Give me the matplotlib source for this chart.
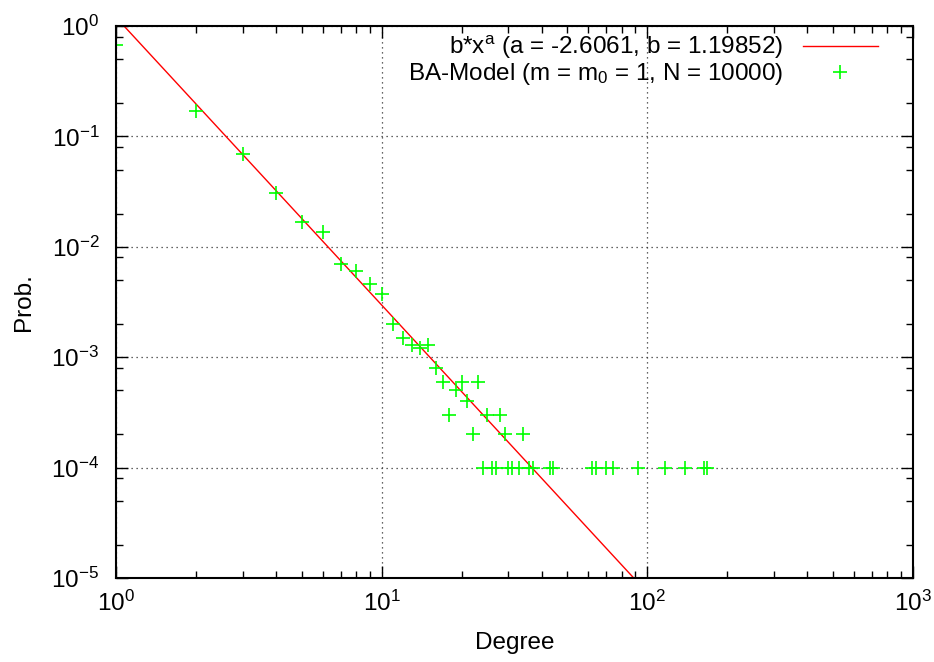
import numpy as np
import matplotlib
matplotlib.use("Agg")
from matplotlib import pyplot as plt
from matplotlib.ticker import LogLocator, NullFormatter

plt.rcParams['font.family'] = ['Liberation Sans', 'DejaVu Sans']
plt.rcParams['mathtext.fontset'] = 'custom'
plt.rcParams['mathtext.rm'] = 'Liberation Sans'
plt.rcParams['mathtext.it'] = 'Liberation Sans'
plt.rcParams['mathtext.default'] = 'regular'

# degree distribution (N = 10000, so steps of 1e-4)
degree = [1, 2, 3, 4, 5, 6, 7, 8, 9, 10, 11, 12, 13, 14, 15, 16, 17,
          18, 19, 20, 21, 22, 23, 24, 25, 26, 27, 28, 29, 30, 31, 33, 34,
          36, 37, 43, 44, 62, 64, 70, 74, 92, 117, 139, 164, 168]
prob = [0.668, 0.170, 0.0688, 0.0308, 0.0167, 0.0135, 0.0070, 0.0060,
        0.0046, 0.0037, 0.0020, 0.0015, 0.0013, 0.0012, 0.0013, 0.0008,
        0.0006, 0.0003, 0.0005, 0.0006, 0.0004, 0.0002, 0.0006, 0.0001,
        0.0003, 0.0001, 0.0001, 0.0003, 0.0002, 0.0001, 0.0001, 0.0001,
        0.0002, 0.0001, 0.0001, 0.0001, 0.0001, 0.0001, 0.0001, 0.0001,
        0.0001, 0.0001, 0.0001, 0.0001, 0.0001, 0.0001]

# power law fit parameters
fit_a = -2.6061
fit_b = 1.19852

fs = 17.5

fig = plt.figure(figsize=(9.34, 6.62), dpi=100)
ax = fig.add_axes([116 / 934, 1 - 578 / 662, 797 / 934, 552 / 662])

xs = np.logspace(0, 3, 600)
ax.plot(xs, fit_b * xs ** fit_a, color='#ff0000', lw=1.0,
        label=r'b*x$^{a}$ (a = -2.6061, b = 1.19852)')
ax.plot(degree, prob, linestyle='none', marker='+', ms=10, mew=1.2,
        color='#00ff00', label=r'BA-Model (m = m$_{0}$ = 1, N = 10000)')

ax.set_xscale('log')
ax.set_yscale('log')
ax.set_xlim(1, 1000)
ax.set_ylim(1e-5, 1)

ax.xaxis.set_minor_locator(LogLocator(base=10, subs=np.arange(2, 10)))
ax.yaxis.set_minor_locator(LogLocator(base=10, subs=[2, 5, 8]))
ax.xaxis.set_minor_formatter(NullFormatter())
ax.yaxis.set_minor_formatter(NullFormatter())

ax.tick_params(which='both', direction='in', top=True, right=True,
               labelsize=fs, width=1.0, color='black')
ax.tick_params(which='major', length=8.5)
ax.tick_params(which='minor', length=4.8)
ax.tick_params(axis='y', which='major', pad=12)
ax.tick_params(axis='x', which='major', pad=9)

for s in ax.spines.values():
    s.set_linewidth(1.5)

ax.grid(True, which='major', color='#333333', lw=0.9, linestyle=(0, (1, 3)))

ax.set_xlabel('Degree', fontsize=fs)
ax.set_ylabel('Prob.', fontsize=fs)
ax.xaxis.set_label_coords(0.5, -0.097)
ax.yaxis.set_label_coords(-0.102, 0.5)

ax.legend(loc='upper right', bbox_to_anchor=(0.956, 0.985), frameon=False,
          markerfirst=False, fontsize=fs, borderpad=0, labelspacing=0.0,
          handlelength=3.1, handletextpad=0.8, borderaxespad=0)

fig.savefig('out.png', dpi=100)
